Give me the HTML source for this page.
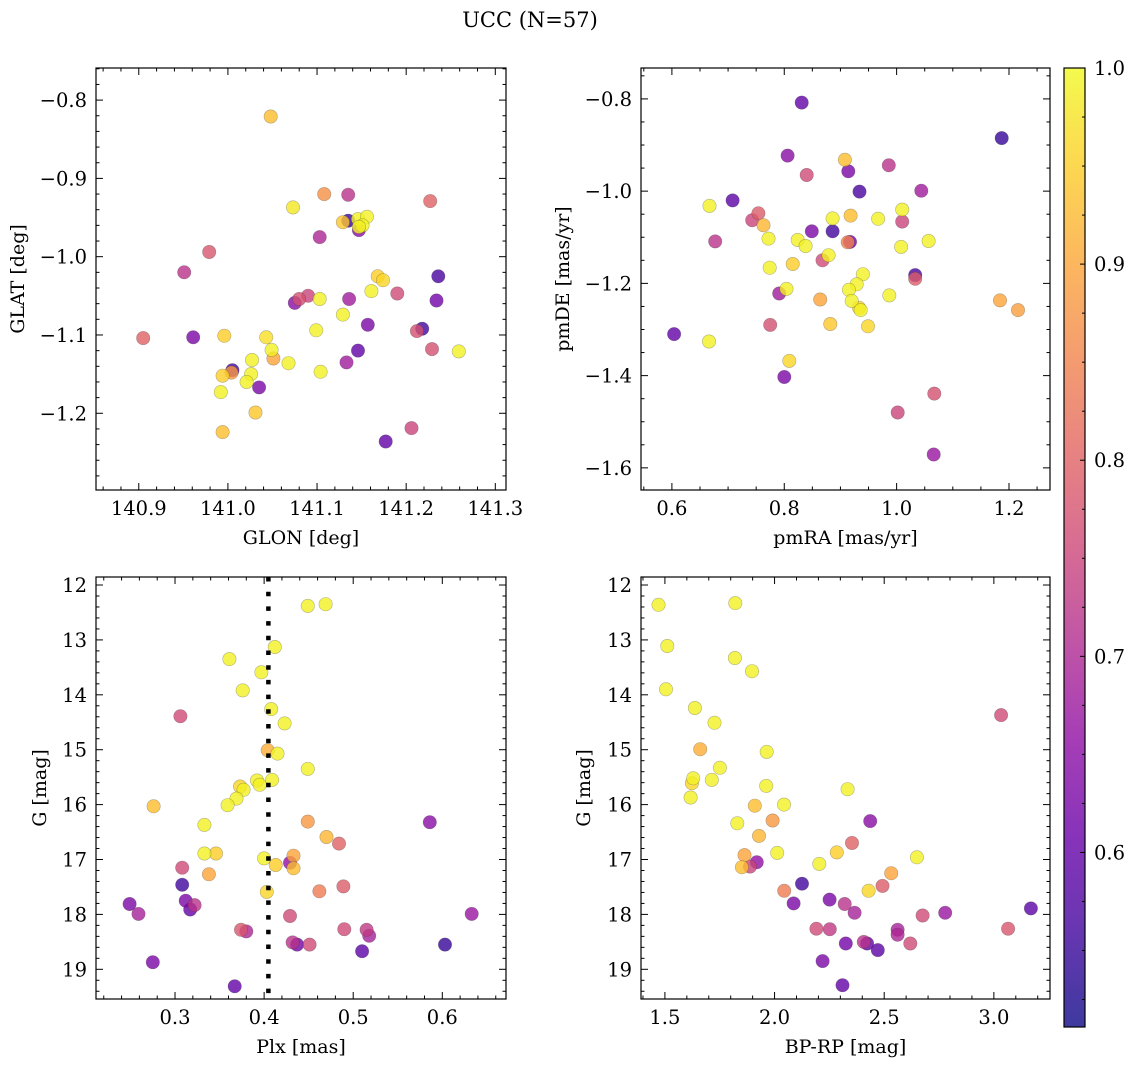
<!DOCTYPE html>
<html><head><meta charset="utf-8"><style>
html,body{margin:0;padding:0;background:#fff;}
svg{display:block;font-family:"DejaVu Serif","Liberation Serif",serif;}
</style></head><body>
<svg id="fig" width="1136" height="1067" viewBox="0 0 1136 1067" xmlns="http://www.w3.org/2000/svg">
<rect width="1136" height="1067" fill="#fff"/>
<text x="530" y="27" font-size="21" text-anchor="middle">UCC (N=57)</text>
</svg>
<script>
// ---------- Panel 1: GLON vs GLAT ----------
const glonVals=[141.048,141.108,141.135,141.227,141.073,141.129,141.135,141.146,141.156,141.151,141.147,141.147,141.103,140.979,140.951,141.168,141.174,141.236,141.161,141.190,141.234,141.075,141.080,141.090,141.103,141.136,141.129,141.157,141.218,141.212,140.905,140.961,140.996,141.043,141.099,141.229,141.259,141.049,141.051,141.146,141.027,141.068,141.133,141.005,141.004,140.994,141.026,141.104,141.021,141.035,140.992,141.031,140.994,141.206,141.177];
const glatVals=[-0.821,-0.920,-0.921,-0.929,-0.937,-0.956,-0.954,-0.952,-0.949,-0.960,-0.966,-0.962,-0.975,-0.994,-1.020,-1.025,-1.030,-1.025,-1.044,-1.047,-1.056,-1.059,-1.054,-1.050,-1.054,-1.054,-1.074,-1.087,-1.092,-1.095,-1.104,-1.103,-1.101,-1.103,-1.094,-1.118,-1.121,-1.119,-1.130,-1.120,-1.132,-1.136,-1.135,-1.145,-1.148,-1.152,-1.150,-1.147,-1.160,-1.167,-1.173,-1.199,-1.224,-1.219,-1.236];
const probA=[0.93,0.87,0.72,0.80,0.98,0.94,0.55,0.99,0.99,0.99,0.65,0.99,0.70,0.78,0.72,0.95,0.96,0.57,0.99,0.76,0.62,0.65,0.77,0.75,0.99,0.68,0.99,0.63,0.56,0.77,0.80,0.63,0.95,0.97,0.99,0.77,0.99,0.99,0.90,0.60,0.99,0.99,0.68,0.56,0.88,0.95,0.99,0.99,0.99,0.63,0.99,0.94,0.93,0.75,0.60];
// ---------- Panel 2: pmRA vs pmDE ----------
const pmraVals=[0.831,1.187,0.806,0.908,0.914,0.840,0.986,0.934,1.044,0.708,0.667,0.754,0.743,0.763,0.886,0.918,0.967,1.010,1.010,0.677,0.772,0.849,0.886,0.824,0.838,0.917,0.913,1.008,1.057,0.868,0.879,0.774,0.815,0.940,0.929,0.915,1.033,1.033,0.791,0.804,0.864,0.920,0.933,0.936,0.987,1.184,1.216,0.604,0.666,0.775,0.882,0.949,0.809,0.800,1.067,1.002,1.066];
const pmdeVals=[-0.808,-0.885,-0.923,-0.932,-0.957,-0.965,-0.944,-1.001,-0.999,-1.020,-1.032,-1.048,-1.063,-1.074,-1.059,-1.053,-1.060,-1.040,-1.066,-1.109,-1.103,-1.087,-1.087,-1.106,-1.119,-1.110,-1.111,-1.121,-1.108,-1.150,-1.139,-1.166,-1.158,-1.180,-1.202,-1.214,-1.182,-1.190,-1.222,-1.212,-1.235,-1.238,-1.253,-1.258,-1.226,-1.237,-1.258,-1.310,-1.326,-1.290,-1.288,-1.293,-1.368,-1.403,-1.439,-1.480,-1.571];
const probB=[0.60,0.55,0.65,0.93,0.63,0.76,0.72,0.57,0.68,0.59,0.99,0.79,0.75,0.92,0.99,0.93,0.99,0.99,0.75,0.72,0.99,0.63,0.56,0.99,0.99,0.62,0.85,0.99,0.99,0.76,0.99,0.99,0.95,0.99,0.99,0.99,0.57,0.79,0.68,0.99,0.90,0.99,0.96,0.99,0.99,0.90,0.89,0.60,0.99,0.77,0.94,0.96,0.96,0.63,0.77,0.75,0.67];
// ---------- Panel 3: Plx vs G ----------
const plxVals=[0.449,0.469,0.412,0.361,0.397,0.376,0.306,0.408,0.423,0.404,0.415,0.449,0.392,0.395,0.409,0.373,0.377,0.369,0.359,0.276,0.333,0.449,0.586,0.470,0.484,0.333,0.346,0.433,0.429,0.433,0.400,0.413,0.308,0.338,0.308,0.403,0.462,0.489,0.249,0.259,0.312,0.317,0.322,0.429,0.633,0.374,0.380,0.490,0.515,0.518,0.432,0.437,0.451,0.510,0.603,0.275,0.367];
const gPlxVals=[12.38,12.35,13.13,13.35,13.59,13.92,14.39,14.26,14.52,15.01,15.07,15.35,15.56,15.64,15.55,15.67,15.73,15.89,16.01,16.03,16.37,16.31,16.32,16.59,16.71,16.89,16.89,16.93,17.06,17.16,16.98,17.10,17.15,17.27,17.46,17.59,17.58,17.49,17.81,17.99,17.75,17.91,17.83,18.03,17.99,18.28,18.31,18.27,18.28,18.39,18.51,18.55,18.55,18.67,18.55,18.87,19.31];
const probC=[0.99,0.99,0.99,0.99,0.99,0.99,0.76,0.99,0.99,0.91,0.99,0.99,0.99,0.99,0.99,0.96,0.99,0.99,0.99,0.93,0.99,0.88,0.65,0.92,0.80,0.99,0.95,0.90,0.66,0.93,0.99,0.95,0.76,0.90,0.56,0.96,0.84,0.79,0.63,0.69,0.63,0.60,0.72,0.76,0.67,0.78,0.70,0.76,0.73,0.69,0.72,0.62,0.76,0.59,0.55,0.63,0.60];
const plxRef=[0.4048];
// ---------- Panel 4: BP-RP vs G ----------
const bprpVals=[1.471,1.821,1.511,1.819,1.897,1.505,3.033,1.637,1.726,1.661,1.964,1.751,1.629,1.623,1.714,1.962,2.333,1.617,1.910,2.043,1.830,1.991,2.436,1.929,2.353,2.012,2.284,2.649,1.863,1.919,1.888,1.851,2.204,2.532,2.125,2.044,2.429,2.492,2.087,2.251,2.320,2.365,2.675,2.778,3.169,2.191,2.252,3.065,2.561,2.561,2.407,2.422,2.619,2.325,2.471,2.219,2.310];
const gCmdVals=[12.36,12.33,13.11,13.33,13.57,13.90,14.37,14.24,14.51,14.99,15.04,15.33,15.52,15.61,15.55,15.66,15.72,15.87,16.02,16.00,16.34,16.29,16.30,16.57,16.70,16.88,16.87,16.96,16.92,17.05,17.13,17.14,17.08,17.25,17.44,17.57,17.57,17.48,17.80,17.73,17.81,17.97,18.02,17.97,17.89,18.26,18.27,18.26,18.28,18.37,18.50,18.53,18.53,18.53,18.65,18.85,19.29];
const probD=[0.99,0.99,0.99,0.99,0.99,0.99,0.76,0.99,0.99,0.91,0.99,0.99,0.99,0.96,0.99,0.99,0.99,0.99,0.93,0.99,0.99,0.88,0.65,0.92,0.80,0.99,0.95,0.99,0.90,0.66,0.75,0.93,0.99,0.90,0.56,0.84,0.96,0.79,0.63,0.63,0.72,0.69,0.76,0.67,0.59,0.76,0.73,0.78,0.69,0.70,0.72,0.60,0.76,0.62,0.59,0.63,0.60];
// colorbar ticks
const cbTicks=[0.6,0.7,0.8,0.9,1.0];
const cbMin=0.511, cbMax=1.0;

const NS="http://www.w3.org/2000/svg";
const svg=document.getElementById('fig');
function mk(tag,attrs,parent){const e=document.createElementNS(NS,tag);for(const k in attrs)e.setAttribute(k,attrs[k]);(parent||svg).appendChild(e);return e;}
const stops=[[0,[13,8,135]],[0.1,[65,4,157]],[0.2,[106,0,168]],[0.3,[143,13,164]],[0.4,[177,42,144]],[0.5,[204,71,120]],[0.6,[225,100,98]],[0.7,[242,132,75]],[0.8,[252,166,54]],[0.9,[252,206,37]],[1,[240,249,33]]];
function plasma(t){t=Math.max(0,Math.min(1,t));for(let i=1;i<stops.length;i++){if(t<=stops[i][0]){const a=stops[i-1],b=stops[i];const f=(t-a[0])/(b[0]-a[0]);const c=a[1].map((v,j)=>Math.round(v+(b[1][j]-v)*f));return `rgb(${c[0]},${c[1]},${c[2]})`;}}return 'rgb(240,249,33)';}
function colorOf(p){return plasma((p-cbMin)/(cbMax-cbMin));}
function fmtNum(v,d){const s=Math.abs(v).toFixed(d);return (v<0?'\u2212':'')+s;}
const TFS=19.5, LFS=19;

function panel(cfg){
  const g=mk('g',{});
  
  
  const sx=v=>cfg.x0+(v-cfg.xa)/(cfg.xb-cfg.xa)*(cfg.x1-cfg.x0);
  const sy=v=>cfg.y0+(v-cfg.ya)/(cfg.yb-cfg.ya)*(cfg.y1-cfg.y0);
  const idx=cfg.xs.map((_,i)=>i).sort((a,b)=>cfg.ps[a]-cfg.ps[b]);
  const pg=mk('g',{},g);
  
  
  for(const i of idx){
    const c=mk('circle',{cx:sx(cfg.xs[i]).toFixed(1),cy:sy(cfg.ys[i]).toFixed(1),r:6.7,fill:colorOf(cfg.ps[i]),'fill-opacity':0.8,stroke:'#333','stroke-opacity':0.35,'stroke-width':0.6},pg);
    
    
  }
  if(cfg.vline){
    for(const v of cfg.vline){
      const l=mk('line',{x1:sx(v),x2:sx(v),y1:cfg.y0,y2:cfg.y1,stroke:'#000','stroke-width':4.5,'stroke-dasharray':'4.5 10.2'},g);
      
      
    }
  }
  const fr=mk('rect',{x:cfg.x0,y:cfg.y0,width:cfg.x1-cfg.x0,height:cfg.y1-cfg.y0,fill:'none',stroke:'#000','stroke-width':1.2},g);
  
  
  const lo=Math.min(cfg.xa,cfg.xb),hi=Math.max(cfg.xa,cfg.xb);
  for(let k=Math.ceil(lo/cfg.xmin-1e-6);k*cfg.xmin<=hi+1e-9;k++){
    const v=k*cfg.xmin;const major=Math.abs(v/cfg.xmaj-Math.round(v/cfg.xmaj))<1e-6;const L=major?7:3.5;const x=sx(v);
    mk('line',{x1:x,x2:x,y1:cfg.y1,y2:cfg.y1-L,stroke:'#000','stroke-width':1},g);
    mk('line',{x1:x,x2:x,y1:cfg.y0,y2:cfg.y0+L,stroke:'#000','stroke-width':1},g);
  }
  const ylo=Math.min(cfg.ya,cfg.yb),yhi=Math.max(cfg.ya,cfg.yb);
  for(let k=Math.ceil(ylo/cfg.ymin-1e-6);k*cfg.ymin<=yhi+1e-9;k++){
    const v=k*cfg.ymin;const major=Math.abs(v/cfg.ymaj-Math.round(v/cfg.ymaj))<1e-6;const L=major?7:3.5;const y=sy(v);
    mk('line',{x1:cfg.x0,x2:cfg.x0+L,y1:y,y2:y,stroke:'#000','stroke-width':1},g);
    mk('line',{x1:cfg.x1,x2:cfg.x1-L,y1:y,y2:y,stroke:'#000','stroke-width':1},g);
  }
  for(const v of cfg.xticks){
    const t=mk('text',{x:sx(v),y:cfg.y1+25,'font-size':TFS,'text-anchor':'middle'},g);
    t.textContent=fmtNum(v,cfg.xd);
    
    
  }
  for(const v of cfg.yticks){
    const t=mk('text',{x:cfg.x0-9,y:sy(v)+7,'font-size':TFS,'text-anchor':'end'},g);
    t.textContent=fmtNum(v,cfg.yd);
    
    
  }
  const xl=mk('text',{x:(cfg.x0+cfg.x1)/2,y:cfg.y1+54,'font-size':LFS,'text-anchor':'middle'},g);
  xl.textContent=cfg.xlabel;
  
  
  const cy=(cfg.y0+cfg.y1)/2;
  const yl=mk('text',{x:cfg.ylx,y:cy,'font-size':LFS,'text-anchor':'middle',transform:`rotate(-90 ${cfg.ylx} ${cy})`},g);
  yl.textContent=cfg.ylabel;
  
  
}

panel({name:'panel-glon-glat',x0:96,x1:506,y0:68,y1:490,xa:140.852,xb:141.312,ya:-0.759,yb:-1.298,xmaj:0.1,xmin:0.02,ymaj:0.1,ymin:0.02,xticks:[140.9,141.0,141.1,141.2,141.3],yticks:[-0.8,-0.9,-1.0,-1.1,-1.2],xd:1,yd:1,xlabel:'GLON [deg]',ylabel:'GLAT [deg]',ylx:24,xs:glonVals,ys:glatVals,ps:probA});
panel({name:'panel-pmra-pmde',x0:641,x1:1050,y0:68,y1:490,xa:0.545,xb:1.273,ya:-0.733,yb:-1.648,xmaj:0.2,xmin:0.05,ymaj:0.2,ymin:0.05,xticks:[0.6,0.8,1.0,1.2],yticks:[-0.8,-1.0,-1.2,-1.4,-1.6],xd:1,yd:1,xlabel:'pmRA [mas/yr]',ylabel:'pmDE [mas/yr]',ylx:569,xs:pmraVals,ys:pmdeVals,ps:probB});
panel({name:'panel-plx-g',x0:96,x1:506,y0:577,y1:999,xa:0.2113,xb:0.6715,ya:11.854,yb:19.541,xmaj:0.1,xmin:0.02,ymaj:1,ymin:0.2,xticks:[0.3,0.4,0.5,0.6],yticks:[12,13,14,15,16,17,18,19],xd:1,yd:0,xlabel:'Plx [mas]',ylabel:'G [mag]',ylx:46,xs:plxVals,ys:gPlxVals,ps:probC,vline:plxRef});
panel({name:'panel-bprp-g',x0:641,x1:1050,y0:577,y1:999,xa:1.391,xb:3.256,ya:11.854,yb:19.541,xmaj:0.5,xmin:0.1,ymaj:1,ymin:0.2,xticks:[1.5,2.0,2.5,3.0],yticks:[12,13,14,15,16,17,18,19],xd:1,yd:0,xlabel:'BP-RP [mag]',ylabel:'G [mag]',ylx:590,xs:bprpVals,ys:gCmdVals,ps:probD});

const cb=mk('g',{});


const cbX0=1064,cbX1=1085,cbY0=68,cbY1=1027;
const defs=mk('defs',{},cb);
const lg=mk('linearGradient',{id:'cbg',x1:0,y1:1,x2:0,y2:0},defs);
for(let i=0;i<=20;i++){mk('stop',{offset:i/20,'stop-color':plasma(i/20)},lg);}
const cbr=mk('rect',{x:cbX0,y:cbY0,width:cbX1-cbX0,height:cbY1-cbY0,fill:'url(#cbg)','fill-opacity':0.8},cb);


mk('rect',{x:cbX0,y:cbY0,width:cbX1-cbX0,height:cbY1-cbY0,fill:'none',stroke:'#000','stroke-width':1.2},cb);
const cy=v=>cbY1-(v-cbMin)/(cbMax-cbMin)*(cbY1-cbY0);
for(let v=0.525;v<=1.0001;v+=0.025){
  const major=cbTicks.some(t=>Math.abs(t-v)<1e-6);
  mk('line',{x1:cbX1,x2:cbX1-(major?5:3),y1:cy(v),y2:cy(v),stroke:'#000','stroke-width':1},cb);
}
for(const v of cbTicks){
  const t=mk('text',{x:1094,y:cy(v)+7,'font-size':TFS},cb);
  t.textContent=v.toFixed(1);
  
  
}
</script>
</body></html>
